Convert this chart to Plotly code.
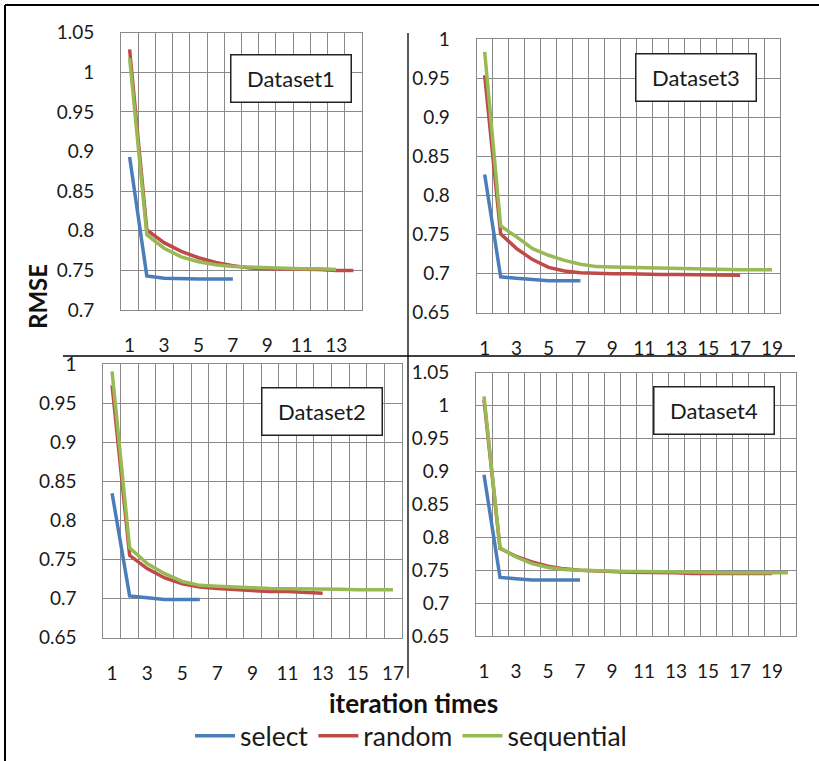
import plotly.graph_objects as go

W, H = 819, 761

# ---------------- data ----------------
series_names = ["select", "random", "sequential"]
series_colors = ["#4A7EBB", "#BE4B48", "#98B954"]

d1_categories = 14
d1_select = [0.893, 0.743, 0.740, 0.739, 0.739, 0.739, 0.739]
d1_random = [1.029, 0.801, 0.785, 0.774, 0.766, 0.760, 0.756, 0.753, 0.752, 0.752, 0.751, 0.751, 0.750, 0.750]
d1_sequential = [1.018, 0.795, 0.778, 0.767, 0.761, 0.757, 0.755, 0.754, 0.753, 0.753, 0.752, 0.752, 0.751]

d3_categories = 19
d3_select = [0.827, 0.696, 0.694, 0.692, 0.691, 0.691, 0.691]
d3_random = [0.954, 0.751, 0.732, 0.718, 0.708, 0.7035, 0.701, 0.700, 0.700, 0.700, 0.699, 0.699,
             0.699, 0.699, 0.699, 0.698, 0.698]
d3_sequential = [0.984, 0.761, 0.747, 0.732, 0.7235, 0.717, 0.712, 0.709, 0.7085, 0.708, 0.707, 0.707,
                 0.707, 0.706, 0.706, 0.705, 0.705, 0.705, 0.705]

d2_categories = 17
d2_select = [0.835, 0.7035, 0.701, 0.699, 0.699, 0.699]
d2_random = [0.973, 0.7555, 0.7385, 0.7265, 0.719, 0.715, 0.713, 0.7115, 0.710, 0.709, 0.709, 0.708, 0.707]
d2_sequential = [0.991, 0.765, 0.745, 0.732, 0.722, 0.717, 0.716, 0.7145, 0.714, 0.713, 0.713, 0.712,
                 0.712, 0.712, 0.7115, 0.7115, 0.7115]

d4_categories = 20
d4_select = [0.895, 0.739, 0.737, 0.735, 0.735, 0.735, 0.735]
d4_random = [1.009, 0.783, 0.771, 0.7625, 0.756, 0.752, 0.750, 0.7485, 0.748, 0.747, 0.747, 0.746,
             0.746, 0.745, 0.745, 0.745, 0.745, 0.745, 0.745]
d4_sequential = [1.014, 0.784, 0.770, 0.760, 0.754, 0.751, 0.750, 0.749, 0.749, 0.748, 0.748, 0.748,
                 0.747, 0.747, 0.747, 0.746, 0.746, 0.746, 0.746, 0.746]

panel_titles = ["Dataset1", "Dataset3", "Dataset2", "Dataset4"]
y_ranges = [(0.7, 1.05), (0.65, 1.0), (0.65, 1.0), (0.65, 1.05)]
x_tick_labels = [1, 3, 5, 7, 9, 11, 13, 15, 17, 19]

# ---------------- layout geometry (pixels) ----------------
panel_px = [
    (121, 362, 32.7, 310),
    (476.7, 780, 39.3, 312.7),
    (103.3, 401.7, 364.3, 637.7),
    (476, 796, 372.7, 636),
]
box_px = [(291, 78.5), (696, 78), (321.5, 411.7), (714, 410)]

panels = [
    (d1_categories, [d1_select, d1_random, d1_sequential]),
    (d3_categories, [d3_select, d3_random, d3_sequential]),
    (d2_categories, [d2_select, d2_random, d2_sequential]),
    (d4_categories, [d4_select, d4_random, d4_sequential]),
]

FONT = "Lato"
GRID = "#8a8a8a"
TXT = "#1a1a1a"
TICK_SIZE = 19

fig = go.Figure()
layout = dict(
    width=W, height=H,
    margin=dict(l=0, r=0, t=0, b=0, autoexpand=False),
    paper_bgcolor="white", plot_bgcolor="white",
    font=dict(family=FONT, size=TICK_SIZE, color=TXT),
    showlegend=True,
    legend=dict(orientation="h", xanchor="center", x=411 / W, yanchor="middle", y=1 - 736 / H,
                font=dict(family=FONT, size=26.5, color=TXT), bgcolor="rgba(0,0,0,0)",
                itemwidth=40, tracegroupgap=0),
)

annotations = []
for i, ((ncat, sers), (l, r, t, b)) in enumerate(zip(panels, panel_px)):
    n = i + 1
    xa = "x" if n == 1 else f"x{n}"
    ya = "y" if n == 1 else f"y{n}"
    for name, color, vals in zip(series_names, series_colors, sers):
        fig.add_trace(go.Scatter(
            x=list(range(1, len(vals) + 1)), y=vals, mode="lines", name=name,
            line=dict(color=color, width=3.5), xaxis=xa, yaxis=ya,
            legendgroup=name, showlegend=(n == 1),
        ))
    layout[f"xaxis{n}"] = dict(
        domain=[l / W, r / W], anchor=ya, range=[0.5, ncat + 0.5], automargin=False,
        tickmode="array", tickvals=[v for v in x_tick_labels if v <= ncat],
        showgrid=False, zeroline=False, ticks="", ticklabelstandoff=18,
        showline=True, linecolor=GRID, linewidth=1, mirror=True,
        minor=dict(tickmode="linear", tick0=0.5, dtick=1, showgrid=True, gridcolor=GRID, gridwidth=1, ticks=""),
        tickfont=dict(family=FONT, size=TICK_SIZE, color=TXT),
    )
    y0, y1 = y_ranges[i]
    layout[f"yaxis{n}"] = dict(
        domain=[1 - b / H, 1 - t / H], anchor=xa, range=[y0, y1], automargin=False,
        tickmode="linear", tick0=0.65, dtick=0.05,
        showgrid=True, gridcolor=GRID, gridwidth=1, zeroline=False, ticks="",
        ticklabelstandoff=22,
        showline=True, linecolor=GRID, linewidth=1, mirror=True,
        tickfont=dict(family=FONT, size=TICK_SIZE, color=TXT),
    )
    cx, cy = box_px[i]
    annotations.append(dict(
        x=cx / W, y=1 - cy / H, xref="paper", yref="paper", text=panel_titles[i], showarrow=False,
        font=dict(family=FONT, size=22, color=TXT), bgcolor="white",
        bordercolor="#222222", borderwidth=1.5, borderpad=2, width=115, height=42,
        xanchor="center", yanchor="middle",
    ))

annotations.append(dict(x=37 / W, y=1 - 297 / H, xref="paper", yref="paper", text="<b>RMSE</b>",
                        textangle=-90, showarrow=False, font=dict(family=FONT, size=24, color="#111111"),
                        xanchor="center", yanchor="middle"))
annotations.append(dict(x=413 / W, y=1 - 703 / H, xref="paper", yref="paper", text="<b>iteration times</b>",
                        showarrow=False, font=dict(family=FONT, size=26, color="#111111"),
                        xanchor="center", yanchor="middle"))
layout["annotations"] = annotations


def pline(x0, y0, x1, y1, w):
    return dict(type="line", xref="paper", yref="paper", x0=x0 / W, y0=1 - y0 / H, x1=x1 / W, y1=1 - y1 / H,
                line=dict(color="black", width=w), layer="above")


layout["shapes"] = [
    pline(5, 5, 5, 761, 2),
    pline(5, 5, 819, 5, 2),
    pline(408, 33, 408, 678, 1.3),
    pline(63, 356, 795, 356, 1.3),
]

fig.update_layout(**layout)
fig.write_html("out.html", config={"displayModeBar": False},
               post_script="document.body.style.margin='0';document.body.style.padding='0';")
